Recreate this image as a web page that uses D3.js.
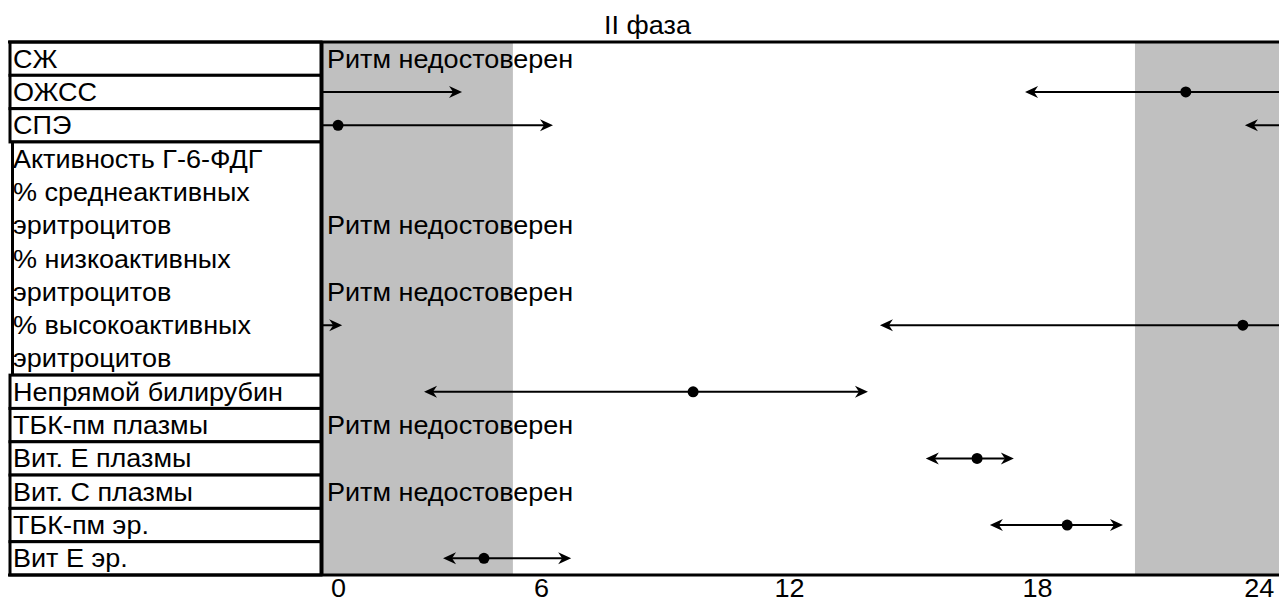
<!DOCTYPE html>
<html lang="ru">
  <head>
    <meta charset="utf-8">
    <title>II фаза</title>
    <script src="https://d3js.org/d3.v7.min.js"></script>
    <style>
      body { margin: 0; background: #fff; }
      #chart text { font-family: Arial, "Liberation Sans", sans-serif; font-size: 25px; fill: #000; }
    </style>
  </head>
  <body>
    <div id="chart"></div>
    <script>
      "use strict"
      // подписи слева: каждая ячейка - список строк текста
      var podpisi = [
        ["СЖ"], ["ОЖСС"], ["СПЭ"],
        ["Активность Г-6-ФДГ", "% среднеактивных", "эритроцитов", "% низкоактивных", "эритроцитов", "% высокоактивных", "эритроцитов"],
        ["Непрямой билирубин"], ["ТБК-пм плазмы"], ["Вит. Е плазмы"], ["Вит. С плазмы"], ["ТБК-пм эр."], ["Вит Е эр."]
      ]
      // показатели и номер строки текста, напротив которой они стоят
      var pokazateli = ["СЖ", "ОЖСС", "СПЭ", "Активность Г-6-ФДГ", "% среднеактивных эритроцитов", "% низкоактивных эритроцитов",
                        "% высокоактивных эритроцитов", "Непрямой билирубин", "ТБК-пм плазмы", "Вит. Е плазмы", "Вит. С плазмы", "ТБК-пм эр.", "Вит Е эр."]
      var stroka = [0, 1, 2, 3, 5, 7, 8, 10, 11, 12, 13, 14, 15]
      // акрофаза (ч) и доверительный интервал; null - ритм недостоверен
      var akrofaza = [null, 21.6, 1.09, null, null, null, 22.98, 9.68, null, 16.55, null, 18.73, 4.62]
      var ciNiz    = [null, 17.71, -0.97, null, null, null, 14.2, 3.17, null, 15.31, null, 16.86, 3.63]
      var ciVerh   = [null, 28.09, 6.29, null, null, null, 25.19, 13.91, null, 17.44, null, 20.08, 6.73]
      var nedostoveren = [true, false, false, false, true, true, false, false, true, false, true, false, false]
      // ночь: начало и конец (ч)
      var noch = [20.37, 5.32]
      var tiki = [0, 6, 12, 18, 24]
      var zagolovok = "II фаза"

      var W = 1279, H = 602
      var verh = 42, niz = 575, levoTab = 10, levoPlot = 322
      var rastyazh = 1.08 // шрифт в оригинале чуть шире
      var nStrok = d3.sum(podpisi, d => d.length)

      var x = d3.scaleLinear().domain([0, 24]).range([293, 1285])
      var y = d3.scaleLinear().domain([0, nStrok]).range([verh, niz])
      var centr = i => y(i + 0.5)

      var svg = d3.select('#chart').append('svg')
        .attr('width', W).attr('height', H)

      svg.append('clipPath').attr('id', 'klip')
        .append('rect')
          .attr('x', levoPlot - 2).attr('y', verh)
          .attr('width', x(24) - levoPlot + 2).attr('height', niz - verh)

      var plot = svg.append('g').attr('clip-path', 'url(#klip)')

      // ночные полосы
      plot.selectAll('rect.noch')
        .data([[0, noch[1]], [noch[0], 24]])
        .enter().append('rect')
          .attr('class', 'noch')
          .attr('x', d => x(d[0]))
          .attr('y', verh)
          .attr('width', d => x(d[1]) - x(d[0]))
          .attr('height', niz - verh)
          .attr('fill', '#c0c0c0')

      // стрелки интервалов (с переходом через 24 ч)
      var strelka = function(tx, ty, dir) {
        return 'M' + tx + ',' + ty + 'L' + (tx - dir * 13) + ',' + (ty - 6) +
               'L' + (tx - dir * 9) + ',' + ty + 'L' + (tx - dir * 13) + ',' + (ty + 6) + 'Z'
      }
      var ryady = d3.range(pokazateli.length).filter(i => akrofaza[i] != null)
      ryady.forEach(function(i) {
        var cy = centr(stroka[i])
        ;[-24, 0, 24].forEach(function(s) {
          var g = plot.append('g')
          g.append('line')
            .attr('x1', x(ciNiz[i] + s) + 9).attr('x2', x(ciVerh[i] + s) - 9)
            .attr('y1', cy).attr('y2', cy)
            .attr('stroke', '#000').attr('stroke-width', 2)
          g.append('path').attr('d', strelka(x(ciNiz[i] + s), cy, -1)).attr('fill', '#000')
          g.append('path').attr('d', strelka(x(ciVerh[i] + s), cy, 1)).attr('fill', '#000')
          g.append('circle')
            .attr('cx', x(akrofaza[i] + s)).attr('cy', cy).attr('r', 5.5)
            .attr('fill', '#000')
        })
      })

      // ритм недостоверен
      svg.selectAll('text.nedost')
        .data(d3.range(pokazateli.length).filter(i => nedostoveren[i]))
        .enter().append('text')
          .attr('class', 'nedost')
          .attr('x', levoPlot + 5)
          .attr('y', i => centr(stroka[i]) + 9)
          .text('Ритм недостоверен')

      // таблица подписей
      var nachalo = 0
      podpisi.forEach(function(p) {
        var blok = p.length > 1
        svg.append('rect')
          .attr('x', blok ? levoTab + 2.5 : levoTab)
          .attr('y', y(nachalo))
          .attr('width', levoPlot - levoTab - (blok ? 3.5 : 1))
          .attr('height', y(nachalo + p.length) - y(nachalo))
          .attr('fill', '#fff').attr('stroke', '#000').attr('stroke-width', 3)
        p.forEach(function(t, k) {
          svg.append('text')
            .attr('x', levoTab + 3)
            .attr('y', centr(nachalo + k) + 9)
            .text(t)
        })
        nachalo += p.length
      })

      // рамка
      svg.append('line').attr('x1', levoTab - 2).attr('x2', x(24)).attr('y1', verh).attr('y2', verh)
        .attr('stroke', '#000').attr('stroke-width', 3)
      svg.append('line').attr('x1', levoTab - 2).attr('x2', x(24)).attr('y1', niz).attr('y2', niz)
        .attr('stroke', '#000').attr('stroke-width', 3)
      svg.append('line').attr('x1', levoPlot).attr('x2', levoPlot).attr('y1', verh).attr('y2', niz)
        .attr('stroke', '#000').attr('stroke-width', 3)

      // ось времени
      var os = svg.append('g')
        .attr('transform', 'translate(0,' + niz + ')')
        .call(d3.axisBottom(x).tickValues(tiki).tickSize(0).tickFormat(d3.format('d')))
      os.select('.domain').remove()
      os.selectAll('text')
        .attr('dy', null).attr('y', 22)
        .attr('font-family', null).attr('font-size', null)

      svg.append('text')
        .attr('x', (levoTab + x(24)) / 2)
        .attr('y', 34)
        .attr('text-anchor', 'middle')
        .text(zagolovok)

      // растягиваем текст по ширине как в оригинале
      svg.selectAll('text').each(function() {
        var t = d3.select(this)
        t.attr('textLength', this.getComputedTextLength() * rastyazh).attr('lengthAdjust', 'spacingAndGlyphs')
      })
      // подписи оси не выходят за края поля
      os.selectAll('text')
        .attr('x', function(d) {
          var w = this.getComputedTextLength() * rastyazh / 2, cx = x(d)
          if (cx - w < levoPlot + 8) return levoPlot + 8 + w - cx
          if (cx + w > x(24) - 10) return x(24) - 10 - w - cx
          return 0
        })
    </script>
  </body>
</html>
